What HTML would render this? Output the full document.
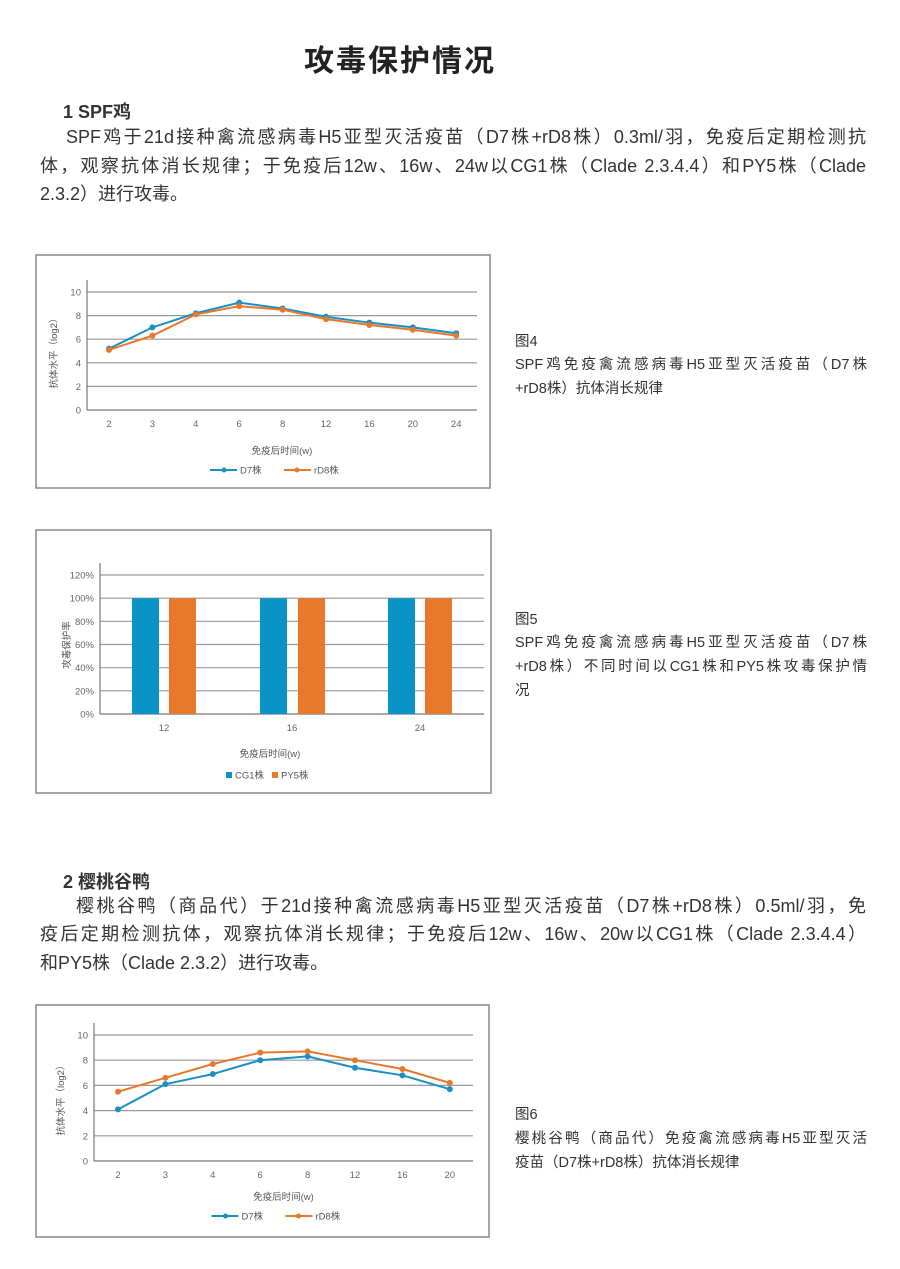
<!DOCTYPE html>
<html><head><meta charset="utf-8"><style>
body{margin:0;background:#fff;width:900px;height:1269px;position:relative;overflow:hidden;font-family:"Liberation Sans","Noto Sans CJK SC",sans-serif;color:#333}
.t{position:absolute;white-space:nowrap}
.j{position:absolute;text-align:justify;text-align-last:justify;font-size:18px;line-height:18px;white-space:nowrap}
.f{position:absolute;font-size:14.5px;left:515px;color:#333}
svg{position:absolute;left:0;top:0}
</style></head><body>
<div class="t" style="left:0;width:800px;text-align:center;top:36px;font-size:30px;font-weight:bold;color:#222;letter-spacing:2px">攻毒保护情况</div>
<div class="t" style="left:63px;top:98px;font-size:18px;font-weight:bold;color:#333">1 SPF鸡</div>
<div class="j" style="left:66px;width:800px;top:128px">SPF鸡于21d接种禽流感病毒H5亚型灭活疫苗（D7株+rD8株）0.3ml/羽，免疫后定期检测抗</div>
<div class="j" style="left:40px;width:826px;top:157px">体，观察抗体消长规律；于免疫后12w、16w、24w以CG1株（Clade 2.3.4.4）和PY5株（Clade</div>
<div class="t" style="left:40px;top:185px;font-size:18px;line-height:18px">2.3.2）进行攻毒。</div>
<div class="f" style="top:330px">图4</div>
<div class="f" style="top:353px;width:352px;text-align:justify;text-align-last:justify">SPF鸡免疫禽流感病毒H5亚型灭活疫苗（D7株</div>
<div class="f" style="top:377px">+rD8株）抗体消长规律</div>
<div class="f" style="top:608px">图5</div>
<div class="f" style="top:631px;width:352px;text-align:justify;text-align-last:justify">SPF鸡免疫禽流感病毒H5亚型灭活疫苗（D7株</div>
<div class="f" style="top:655px;width:352px;text-align:justify;text-align-last:justify">+rD8株）不同时间以CG1株和PY5株攻毒保护情</div>
<div class="f" style="top:679px">况</div>
<div class="t" style="left:63px;top:868px;font-size:18px;font-weight:bold;color:#333">2 樱桃谷鸭</div>
<div class="j" style="left:76px;width:790px;top:897px">樱桃谷鸭（商品代）于21d接种禽流感病毒H5亚型灭活疫苗（D7株+rD8株）0.5ml/羽，免</div>
<div class="j" style="left:40px;width:826px;top:925px">疫后定期检测抗体，观察抗体消长规律；于免疫后12w、16w、20w以CG1株（Clade 2.3.4.4）</div>
<div class="t" style="left:40px;top:954px;font-size:18px;line-height:18px">和PY5株（Clade 2.3.2）进行攻毒。</div>
<div class="f" style="top:1103px">图6</div>
<div class="f" style="top:1127px;width:352px;text-align:justify;text-align-last:justify">樱桃谷鸭（商品代）免疫禽流感病毒H5亚型灭活</div>
<div class="f" style="top:1151px">疫苗（D7株+rD8株）抗体消长规律</div>
<svg id="s" width="900" height="1269" xmlns="http://www.w3.org/2000/svg" font-family="Liberation Sans, Noto Sans CJK SC, sans-serif"></svg>
<script>
var o='';
function box(x1,y1,x2,y2){o+=`<rect x="${x1}" y="${y1}" width="${x2-x1}" height="${y2-y1}" fill="none" stroke="#888" stroke-width="1.5"/>`;}
function grid(ax,right,ytop,y0,n,labels,fs){for(var i=0;i<=n;i++){var y=y0-(y0-ytop)*i/n;o+=`<line x1="${ax}" x2="${right}" y1="${y}" y2="${y}" stroke="${i==0?'#777':'#999'}" stroke-width="${i==0?1.3:1.2}"/>`;o+=`<text x="${ax-6}" y="${y+3.5}" font-size="${fs}" fill="#666" text-anchor="end">${labels[i]}</text>`;}o+=`<line x1="${ax}" x2="${ax}" y1="${ytop-12}" y2="${y0}" stroke="#777" stroke-width="1.2"/>`;}
function line(ax,right,ytop,y0,x0,dx,cats,s1,s2,ylab,legY){
 grid(ax,right,ytop,y0,5,[0,2,4,6,8,10],9.5);
 cats.forEach((c,i)=>o+=`<text x="${x0+dx*i}" y="${y0+17}" font-size="9.5" fill="#666" text-anchor="middle">${c}</text>`);
 [[s1,'#1a8fc4'],[s2,'#e8792c']].forEach(function(p){var pts=p[0].map((v,i)=>(x0+dx*i)+','+(y0-(y0-ytop)*v/10));o+=`<polyline points="${pts.join(' ')}" fill="none" stroke="${p[1]}" stroke-width="2"/>`;pts.forEach(q=>{var a=q.split(',');o+=`<circle cx="${a[0]}" cy="${a[1]}" r="3" fill="${p[1]}"/>`});});
 var cx=(ax+right)/2;
 o+=`<text x="${cx}" y="${legY-16}" font-size="9.5" fill="#555" text-anchor="middle">免疫后时间(w)</text>`;
 o+=`<text transform="translate(${ax-30},${(ytop+y0)/2}) rotate(-90)" font-size="9.5" fill="#555" text-anchor="middle">${ylab}</text>`;
 o+=`<line x1="${cx-72}" x2="${cx-45}" y1="${legY}" y2="${legY}" stroke="#1a8fc4" stroke-width="2"/><circle cx="${cx-58}" cy="${legY}" r="2.5" fill="#1a8fc4"/><text x="${cx-42}" y="${legY+3.5}" font-size="9.5" fill="#555">D7株</text>`;
 o+=`<line x1="${cx+2}" x2="${cx+29}" y1="${legY}" y2="${legY}" stroke="#e8792c" stroke-width="2"/><circle cx="${cx+15}" cy="${legY}" r="2.5" fill="#e8792c"/><text x="${cx+32}" y="${legY+3.5}" font-size="9.5" fill="#555">rD8株</text>`;
}
box(36,255,490,488);
line(87,477,292,410,109,43.4,[2,3,4,6,8,12,16,20,24],[5.2,7,8.2,9.1,8.6,7.9,7.4,7,6.5],[5.1,6.3,8.1,8.8,8.5,7.7,7.2,6.8,6.3],'抗体水平（log2）',470);
box(36,1005,489,1237);
line(94,473,1035,1161,118,47.4,[2,3,4,6,8,12,16,20],[4.1,6.1,6.9,8,8.3,7.4,6.8,5.7],[5.5,6.6,7.7,8.6,8.7,8,7.3,6.2],'抗体水平（log2）',1216);
box(36,530,491,793);
grid(100,484,575,714,6,['0%','20%','40%','60%','80%','100%','120%'],9.5);
var yb=714-(714-575)*100/120;
[[132,169,'12'],[260,298,'16'],[388,425,'24']].forEach(function(b){o+=`<rect x="${b[0]}" y="${yb}" width="27" height="${714-yb}" fill="#0a93c6"/><rect x="${b[1]}" y="${yb}" width="27" height="${714-yb}" fill="#e8792c"/><text x="${b[0]+32}" y="731" font-size="9.5" fill="#666" text-anchor="middle">${b[2]}</text>`;});
o+=`<text x="270" y="757" font-size="9.5" fill="#555" text-anchor="middle">免疫后时间(w)</text>`;
o+=`<text transform="translate(70,645) rotate(-90)" font-size="9.5" fill="#555" text-anchor="middle">攻毒保护率</text>`;
o+=`<rect x="226" y="772" width="6" height="6" fill="#0a93c6"/><text x="235" y="778.5" font-size="9.5" fill="#555">CG1株</text><rect x="272" y="772" width="6" height="6" fill="#e8792c"/><text x="281" y="778.5" font-size="9.5" fill="#555">PY5株</text>`;
document.getElementById('s').innerHTML=o;
</script>
</body></html>
